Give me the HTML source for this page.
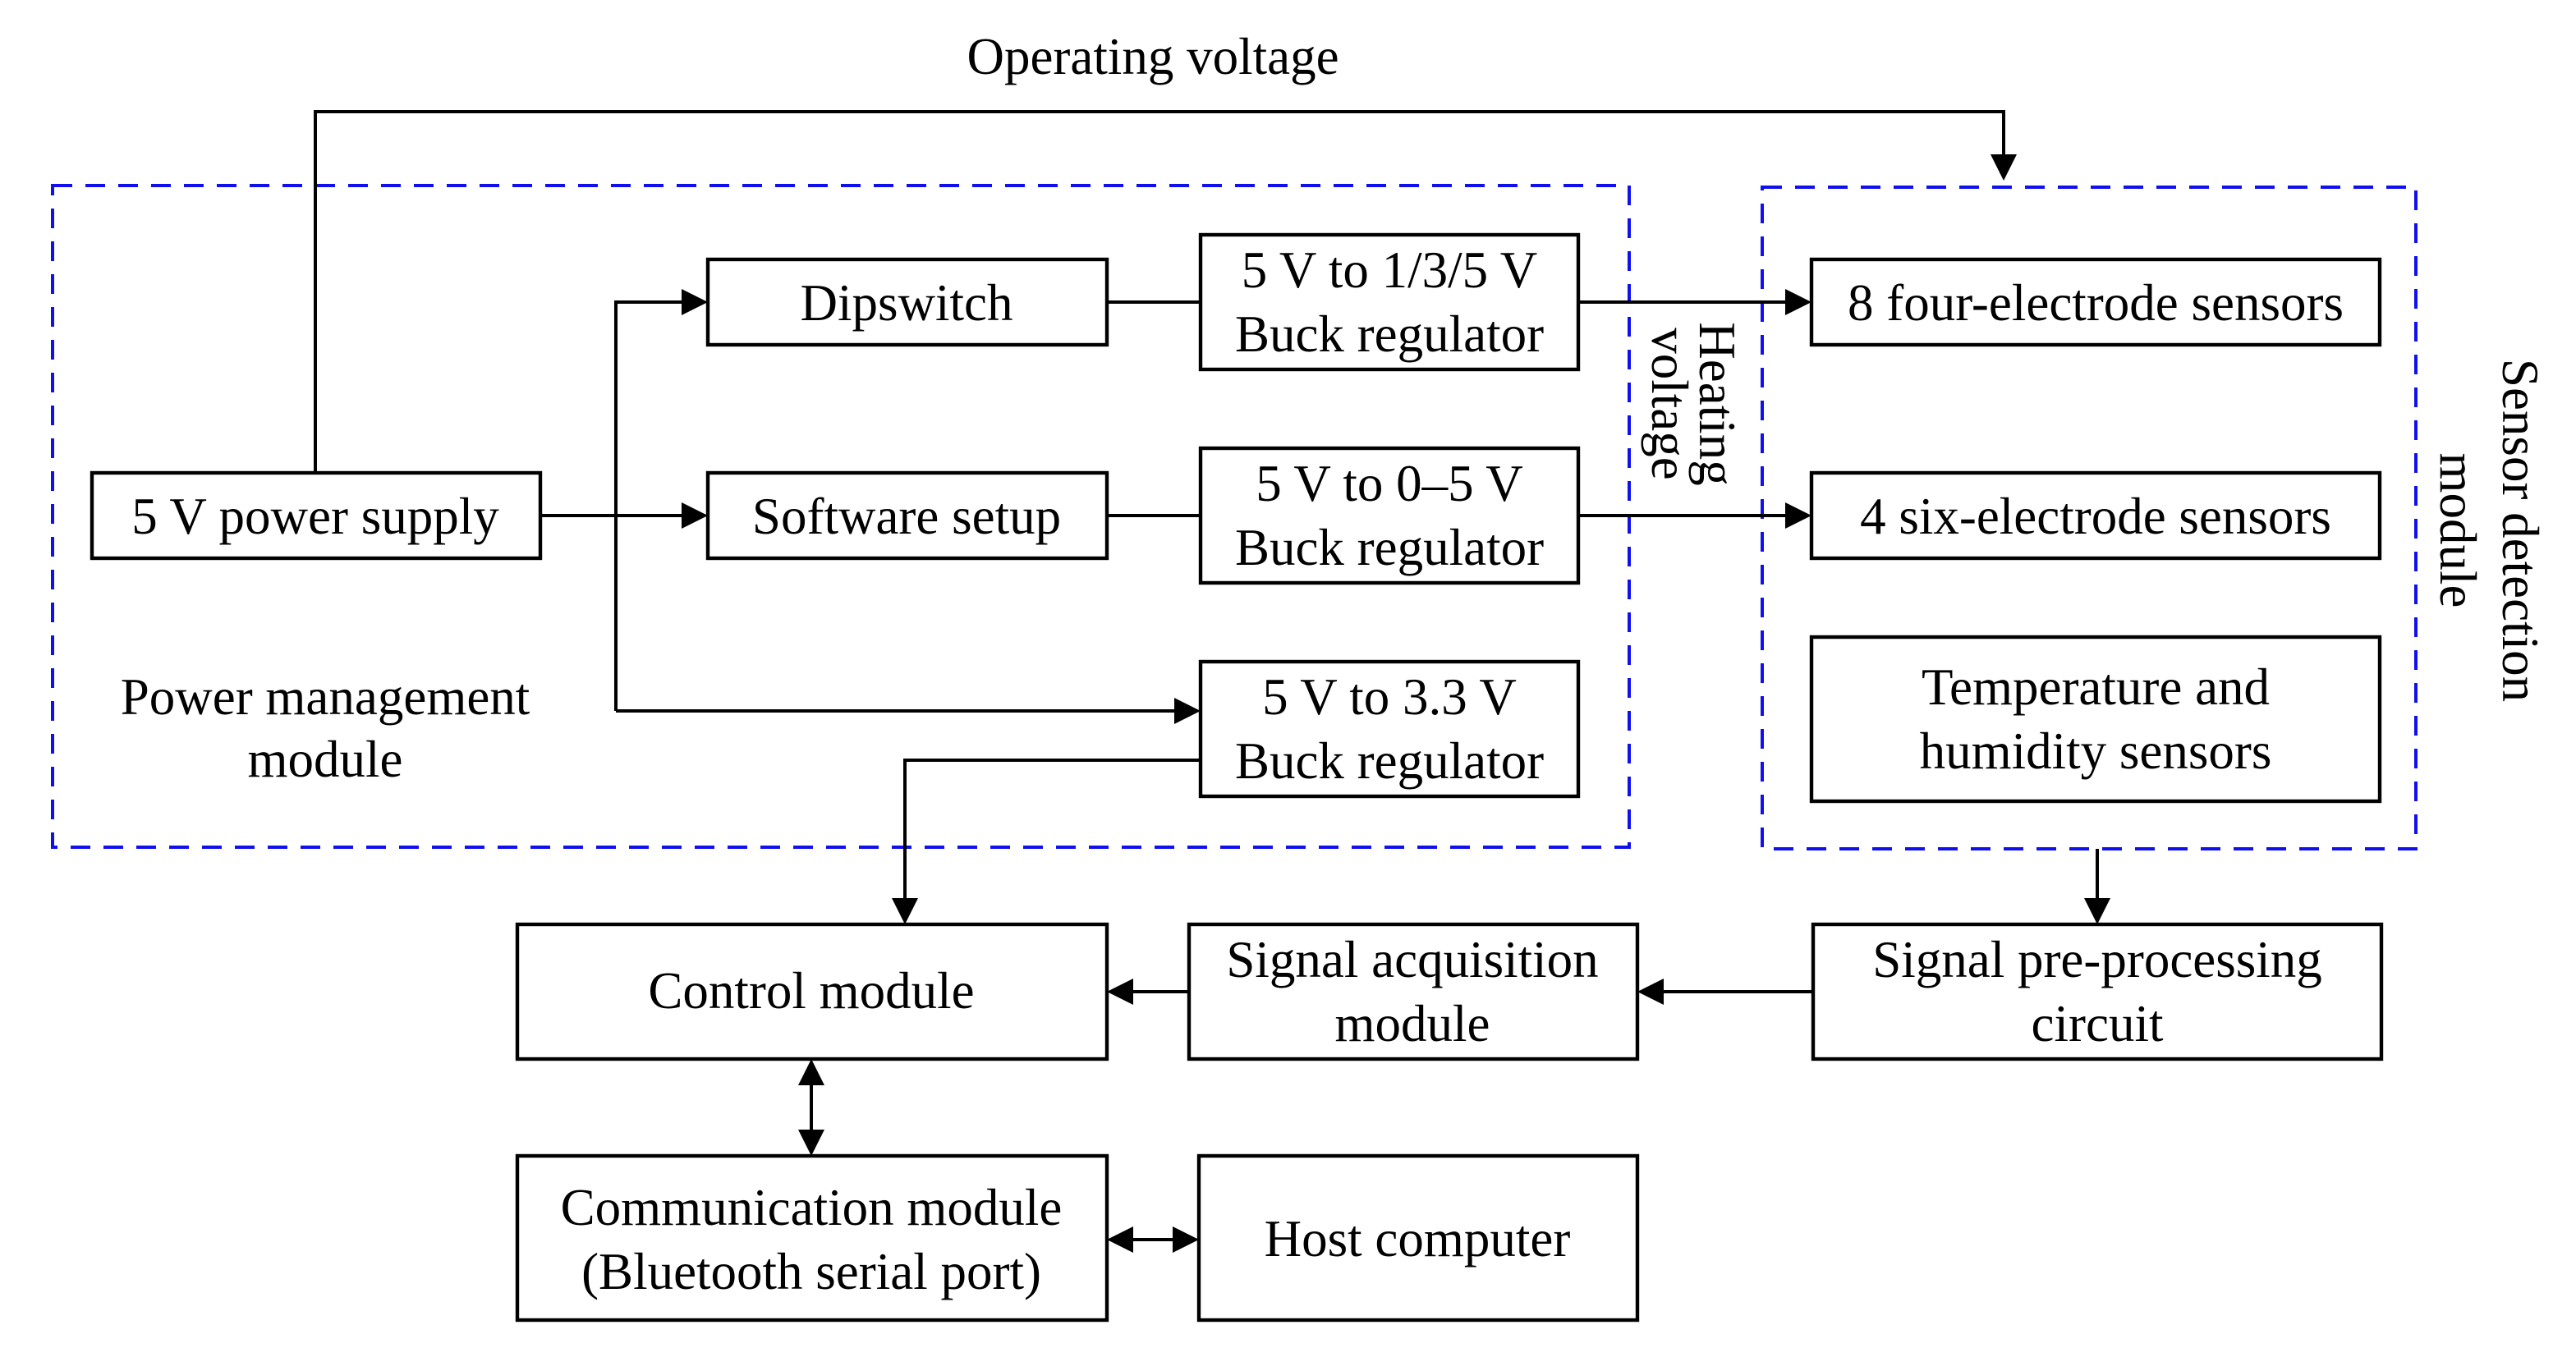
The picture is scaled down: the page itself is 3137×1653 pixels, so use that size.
<!DOCTYPE html>
<html><head><meta charset="utf-8"><style>html,body{margin:0;padding:0;background:#fff}svg{display:block}</style></head>
<body>
<svg width="3137" height="1653" viewBox="0 0 1568.5 826.5" xmlns="http://www.w3.org/2000/svg">
<style>
text{font-family:"Liberation Serif",serif;font-size:31.5px;fill:#000;text-anchor:middle}
.b{fill:#fff;stroke:#000;stroke-width:2.2}
.l{fill:none;stroke:#000;stroke-width:2}
.d{fill:none;stroke:#1010ee;stroke-width:2;stroke-dasharray:12,8}
</style>
<rect class="d" x="32" y="113" width="960" height="403"/>
<rect class="d" x="1073" y="114" width="398" height="403"/>
<text x="702" y="45">Operating voltage</text>
<path class="l" d="M192,288 V68 H1220 V96" />
<path d="M1212,94 L1220,110 L1228,94 z"/>
<!-- boxes -->
<rect class="b" x="56" y="288" width="273" height="52"/>
<text x="192" y="325">5 V power supply</text>
<rect class="b" x="431" y="158" width="243" height="52"/>
<text x="552" y="195">Dipswitch</text>
<rect class="b" x="431" y="288" width="243" height="52"/>
<text x="552" y="325">Software setup</text>
<rect class="b" x="731" y="143" width="230" height="82"/>
<text x="846" y="175">5 V to 1/3/5 V</text><text x="846" y="214">Buck regulator</text>
<rect class="b" x="731" y="273" width="230" height="82"/>
<text x="846" y="305">5 V to 0–5 V</text><text x="846" y="344">Buck regulator</text>
<rect class="b" x="731" y="403" width="230" height="82"/>
<text x="846" y="435">5 V to 3.3 V</text><text x="846" y="474">Buck regulator</text>
<rect class="b" x="1103" y="158" width="346" height="52"/>
<text x="1276" y="195">8 four-electrode sensors</text>
<rect class="b" x="1103" y="288" width="346" height="52"/>
<text x="1276" y="325">4 six-electrode sensors</text>
<rect class="b" x="1103" y="388" width="346" height="100"/>
<text x="1276" y="429">Temperature and</text><text x="1276" y="468">humidity sensors</text>
<text x="198" y="435">Power management</text><text x="198" y="473">module</text>
<text transform="translate(1035,246) rotate(90)" x="0" y="0">Heating</text>
<text transform="translate(1006,246) rotate(90)" x="0" y="0">voltage</text>
<text transform="translate(1524,323) rotate(90)" x="0" y="0">Sensor detection</text>
<text transform="translate(1486,323) rotate(90)" x="0" y="0">module</text>
<rect class="b" x="315" y="563" width="359" height="82"/>
<text x="494" y="614">Control module</text>
<rect class="b" x="724" y="563" width="273" height="82"/>
<text x="860" y="595">Signal acquisition</text><text x="860" y="634">module</text>
<rect class="b" x="1104" y="563" width="346" height="82"/>
<text x="1277" y="595">Signal pre-processing</text><text x="1277" y="634">circuit</text>
<rect class="b" x="315" y="704" width="359" height="100"/>
<text x="494" y="746">Communication module</text><text x="494" y="785">(Bluetooth serial port)</text>
<rect class="b" x="730" y="704" width="267" height="100"/>
<text x="863" y="765">Host computer</text>
<!-- connectors -->
<path class="l" d="M329,314 H420"/><path d="M415,306 L431,314 L415,322 z"/>
<path class="l" d="M375,433 V184 H420"/><path d="M415,176 L431,184 L415,192 z"/>
<path class="l" d="M375,433 H720"/><path d="M715,425 L731,433 L715,441 z"/>
<path class="l" d="M674,184 H731"/>
<path class="l" d="M674,314 H731"/>
<path class="l" d="M961,184 H1092"/><path d="M1087,176 L1103,184 L1087,192 z"/>
<path class="l" d="M961,314 H1092"/><path d="M1087,306 L1103,314 L1087,322 z"/>
<path class="l" d="M731,463 H551 V552"/><path d="M543,547 L551,563 L559,547 z"/>
<path class="l" d="M1277,517 V552"/><path d="M1269,547 L1277,563 L1285,547 z"/>
<path class="l" d="M1104,604 H1008"/><path d="M1013,596 L997,604 L1013,612 z"/>
<path class="l" d="M724,604 H685"/><path d="M690,596 L674,604 L690,612 z"/>
<path class="l" d="M494,656 V693"/><path d="M486,661 L494,645 L502,661 z"/><path d="M486,688 L494,704 L502,688 z"/>
<path class="l" d="M685,755 H719"/><path d="M690,747 L674,755 L690,763 z"/><path d="M714,747 L730,755 L714,763 z"/>
</svg>
</body></html>
